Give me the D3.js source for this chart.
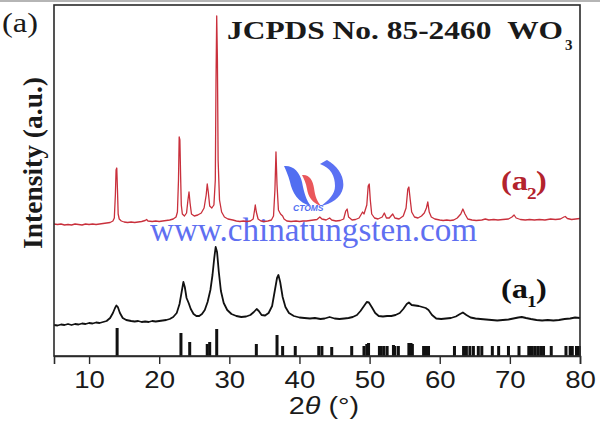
<!DOCTYPE html>
<html><head><meta charset="utf-8">
<script src="https://cdn.jsdelivr.net/npm/d3@7"></script>
<style>html,body{margin:0;padding:0;background:#fff;overflow:hidden}</style>
</head><body>
<svg id="c" width="600" height="429"></svg>
<script>
// ---- data ----
const xTicks = [10, 20, 30, 40, 50, 60, 70, 80];

const redTheta = [5.0,5.5,6.0,6.5,7.0,7.5,8.0,8.5,9.0,9.5,10.0,10.5,11.0,11.5,12.0,12.5,13.0,13.4,13.6,13.75,13.85,13.95,14.05,14.15,14.3,14.6,15.0,15.5,16.0,16.5,17.0,17.5,18.0,18.2,18.4,19.0,19.5,20.0,20.5,21.0,21.5,22.0,22.4,22.6,22.75,22.85,22.95,23.05,23.15,23.3,23.6,23.9,24.1,24.25,24.4,24.6,25.0,25.5,26.0,26.4,26.7,26.85,27.0,27.2,27.5,27.8,28.0,28.1,28.2,28.3,28.4,28.6,28.9,29.3,29.8,30.5,31.0,31.5,32.0,32.5,33.0,33.4,33.6,33.7,33.85,34.1,34.5,35.0,35.5,36.0,36.3,36.5,36.65,36.8,37.0,37.3,37.6,37.8,38.2,38.8,39.5,40.0,40.5,41.0,41.5,42.0,42.5,42.9,43.2,43.8,44.3,44.6,45.2,45.8,46.3,46.6,46.8,47.0,47.5,48.0,48.5,49.0,49.2,49.6,49.8,49.95,50.1,50.3,50.7,51.2,51.8,52.1,52.4,52.8,53.3,53.6,54.2,54.8,55.2,55.45,55.6,55.8,56.0,56.4,56.9,57.4,57.8,58.1,58.3,58.5,58.8,59.3,60.0,60.5,61.0,61.5,62.0,62.5,63.0,63.3,63.6,64.0,64.6,65.2,66.0,66.5,67.0,67.7,68.3,69.0,69.8,70.3,70.6,70.9,71.5,72.2,72.8,73.5,74.2,75.0,75.8,76.5,77.2,77.7,77.9,78.2,78.8,79.4,80.0];
const redIntensity = [132,131.5,132,131,131.5,131,132,131.5,131,132,131.5,132,131.5,132,132.5,133,133.5,135,138,161,186,188,166,142,137,135,134,133.5,134,133.5,134,134.5,135.5,136.5,135,134.5,135,134.5,135,135.5,136,137,139,144,176,219,216,181,151,142,140,143,156,164,153,142,140,141,143,148,161,172,164,150,148,151,176,276,340,296,196,156,144,139,137,136,135,134.5,135,134.5,135,137,146,151,144,137,135,134.5,135,136,140,166,204,171,146,142,140,137,135,134.5,135,134.5,135,135,135.5,136,136.5,139,137,136,138,136,135,135.5,137,145,147,139,136,136.5,138,144,142,151,170,172,156,142,138,137,139,143,138,138,142,138,137,140,148,167,169,156,144,139,138,140,143,148,154,144,139,137,136,135.5,136,135.5,136,138,142,147,142,137,136,135.5,136,137,136,136.5,136,136.5,137,139,141,138,136.5,136,136.5,136,136.5,136,137,136.5,137,139,139.5,137.5,136.5,137,137.5];

const blackTheta = [5.0,5.5,6.0,6.5,7.0,7.5,8.0,8.5,9.0,9.5,10.0,10.5,11.0,11.5,12.0,12.5,13.0,13.4,13.7,13.9,14.1,14.4,14.8,15.3,16.0,16.5,17.0,17.5,18.0,18.5,19.0,19.5,20.0,20.5,21.0,21.5,22.0,22.5,22.9,23.2,23.45,23.65,23.9,24.2,24.5,24.9,25.3,25.7,26.1,26.5,26.9,27.3,27.6,27.85,28.05,28.25,28.5,28.8,29.2,29.7,30.3,31.0,31.7,32.4,33.0,33.5,33.9,34.2,34.6,35.1,35.6,36.1,36.5,36.8,37.0,37.25,37.6,38.0,38.5,39.2,40.0,40.7,41.5,42.2,43.0,43.6,44.3,45.0,45.7,46.4,47.0,47.6,48.2,48.7,49.2,49.6,49.9,50.3,50.8,51.3,51.9,52.5,53.1,53.7,54.3,54.8,55.3,55.6,56.0,56.5,57.0,57.5,58.0,58.4,58.9,59.5,60.2,60.9,61.6,62.3,62.9,63.3,63.8,64.4,65.1,65.8,66.6,67.4,68.2,69.0,69.8,70.5,71.2,71.7,72.3,73.0,73.8,74.6,75.4,76.2,77.0,77.8,78.6,79.3,80.0];
const blackIntensity = [31,30.5,31.5,31,32,31,32,31.5,32.5,32,33,32.5,33.5,33,34,35,38,43,48,50.5,49,43,38,36,35,34.5,35,34,34.5,34,35,34.5,35,35.5,36,37,39,43,52,64,74,69,58,53,47,42,40,40,42,46,54,66,81,98,109,104,84,65,53,46,42,40,39,39.5,41,44,47,45,41,40.5,43,50,66,78,81,74,59,49,43,40,38.5,38,37.5,38,37,37.5,39,37.5,37,37.5,38,39,41,45,50,54,53.5,49,43,40,39.5,40,40,41,43,47,52,53.5,51,50.5,50,49,48,46,41,37.5,37,37.5,38,39.5,42,43.5,41,38.5,37.5,37,36.5,36,35.5,36,36.5,37.5,38.5,39,38,37,36,35.5,36,35.5,36,37,37.5,38.5,38];

const stickTheta = [14.0,23.1,24.35,26.85,27.2,28.2,33.85,36.8,37.6,39.4,42.75,43.2,44.6,47.45,49.2,49.6,49.85,51.4,51.66,52.04,52.5,53.4,53.6,54.1,55.6,55.9,56.1,57.7,58.0,58.4,62.1,63.4,63.8,64.3,64.8,65.5,66.0,67.5,68.4,69.8,71.3,72.7,72.9,73.2,73.6,74.0,74.4,74.8,75.9,78.0,78.6,78.9,79.5,79.9];
const stickIntensity = [28,23,14,12,14,27,12,21,10,10,10,10,9,10,10,12,13,10,10,10,10,11,10,10,13,13,12,10,10,10,10,10,10,10,10,10,10,10,10,10,10,10,10,10,10,10,10,10,10,10,10,10,10,10];

// ---- drawing ----
const svg = d3.select('#c');
const x = d3.scaleLinear().domain([5, 80]).range([54, 580]);
const y = d3.scaleLinear().domain([0, 351]).range([356, 5]);
const serif = '"Liberation Serif","Times New Roman",serif';
const sans = '"Liberation Sans",Arial,sans-serif';

// top gray page edge
svg.append('line').attr('x1',0).attr('x2',600).attr('y1',1).attr('y2',1)
  .attr('stroke','#b5b5b5').attr('stroke-width',2);

// watermark text
svg.append('text').attr('x',150).attr('y',241).attr('font-family',serif)
  .attr('font-size',33).attr('fill','#4a5cf0').attr('opacity',0.88)
  .attr('textLength',327).attr('lengthAdjust','spacingAndGlyphs')
  .text('www.chinatungsten.com');

// watermark logo
const logo = svg.append('g').attr('opacity',0.9);
logo.append('path').attr('d','M284,166 C293,165 300,172 302,182 C304,192 306,200 311,206 C298,203 292,192 290,182 C288,175 286,170 284,166 Z').attr('fill','#3f5ff0');
logo.append('path').attr('d','M302,175 C309,174 313,180 314,188 C315,196 317,201 321,206 C312,203 308,196 307,189 C306,183 304,179 302,175 Z').attr('fill','#e8454a');
logo.append('path').attr('d','M327,160 C338,166 345,177 343,188 C341,198 331,204 321,206 C329,200 335,194 335,186 C335,176 331,168 320,164 C323,162 325,161 327,160 Z').attr('fill','#4a62f2');
logo.append('text').attr('x',293).attr('y',211).attr('font-family',sans).attr('font-style','italic')
  .attr('font-weight','bold').attr('font-size',8.5).attr('fill','#3f5ff0').text('CTOMS');

// reference sticks
svg.append('g').selectAll('rect').data(stickTheta).join('rect')
  .attr('x',(d)=>x(d)-1.5).attr('width',3)
  .attr('y',(d,i)=>y(stickIntensity[i])).attr('height',(d,i)=>y(0)-y(stickIntensity[i]))
  .attr('fill','#111');

// curves
const line = d3.line().x(d=>x(d[0])).y(d=>y(d[1]));
svg.append('path').datum(blackTheta.map((t,i)=>[t,blackIntensity[i]]))
  .attr('d',line).attr('fill','none').attr('stroke','#111').attr('stroke-width',1.8).attr('stroke-linejoin','round');
svg.append('path').datum(redTheta.map((t,i)=>[t,redIntensity[i]]))
  .attr('d',line).attr('fill','none').attr('stroke','#c9303c').attr('stroke-width',1.3).attr('stroke-linejoin','round');

// frame + axis
svg.append('rect').attr('x',54).attr('y',5).attr('width',526).attr('height',351)
  .attr('fill','none').attr('stroke','#2a2a2a').attr('stroke-width',1.6);
const ax = svg.append('g').attr('transform','translate(0,356)')
  .call(d3.axisBottom(x).tickValues(xTicks).tickSize(8).tickFormat(''));
ax.select('.domain').attr('stroke','#2a2a2a').attr('stroke-width',1.6);
ax.selectAll('.tick line').attr('stroke','#2a2a2a').attr('stroke-width',1.4);
ax.selectAll('.tick').append('text')
  .attr('transform','translate(0,32) scale(1.2,1)').attr('text-anchor','middle')
  .attr('font-family',sans).attr('font-size',23).attr('fill','#1a1a1a').text(d=>d);

// x label
const xl = svg.append('text').attr('transform','translate(324,414) scale(1.2,1)')
  .attr('text-anchor','middle').attr('font-family',sans).attr('font-size',24).attr('fill','#1a1a1a');
xl.append('tspan').text('2');
xl.append('tspan').attr('font-style','italic').text('θ');
xl.append('tspan').text('\u00a0(°)');

// y label
svg.append('text').attr('transform','translate(42,163) scale(1.2,1) rotate(-90)')
  .attr('text-anchor','middle').attr('font-family',serif).attr('font-weight','bold')
  .attr('font-size',23).attr('fill','#1a1a1a')
  .attr('textLength',172).attr('lengthAdjust','spacingAndGlyphs').text('Intensity (a.u.)');

// panel letter
svg.append('text').attr('transform','translate(2,32) scale(1.2,1)')
  .attr('font-family',serif).attr('font-size',27).attr('fill','#1a1a1a').text('(a)');

// title
svg.append('text').attr('x',227).attr('y',39).attr('font-family',serif).attr('font-weight','bold')
  .attr('font-size',25).attr('fill','#1a1a1a')
  .attr('textLength',336).attr('lengthAdjust','spacingAndGlyphs').text('JCPDS No. 85-2460\u00a0\u00a0WO');
svg.append('text').attr('x',565).attr('y',50).attr('font-family',serif).attr('font-weight','bold')
  .attr('font-size',15).attr('fill','#1a1a1a').text('3');

// series labels
function seriesLabel(sub, color, baseline) {
  const g = svg.append('g').attr('fill',color).attr('font-family',serif).attr('font-weight','bold');
  g.append('text').attr('transform',`translate(501,${baseline}) scale(1.2,1)`).attr('font-size',27).text('(a');
  g.append('text').attr('transform',`translate(527,${baseline+9}) scale(1.2,1)`).attr('font-size',16).text(sub);
  g.append('text').attr('transform',`translate(536,${baseline}) scale(1.2,1)`).attr('font-size',27).text(')');
}
seriesLabel('2','#b3232d',190);
seriesLabel('1','#111',298);
</script>
</body></html>
